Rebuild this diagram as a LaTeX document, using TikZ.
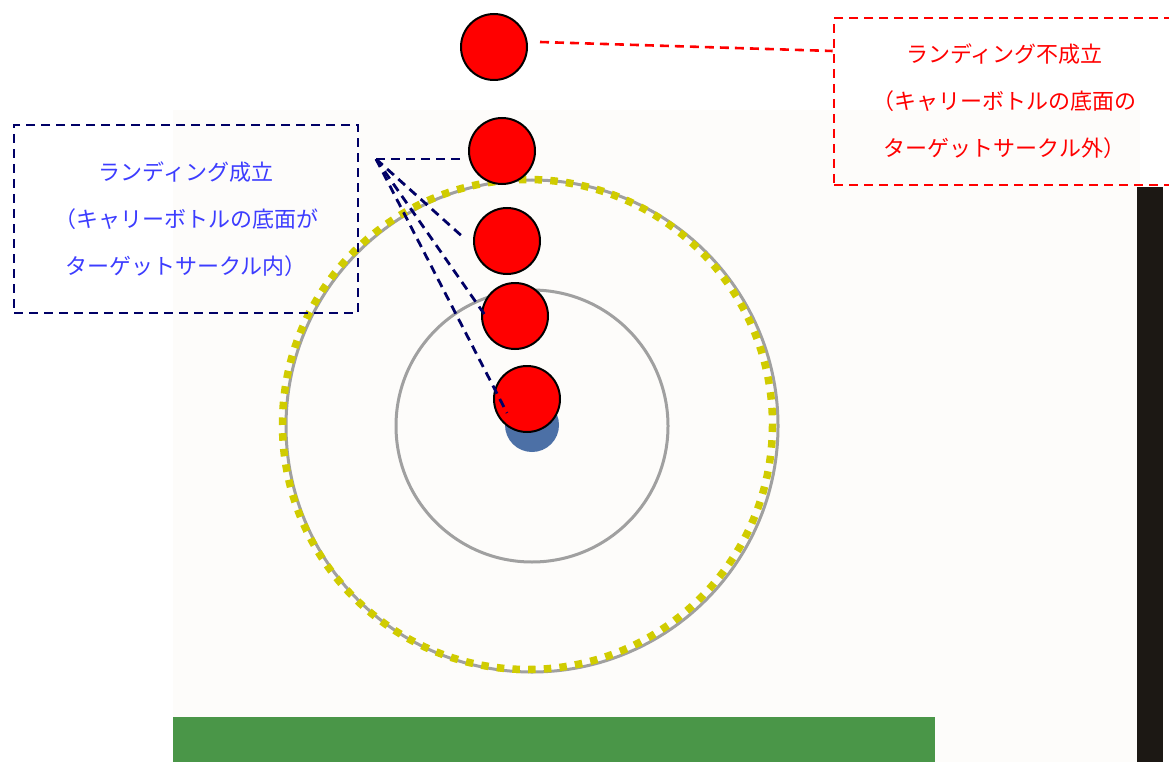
\documentclass[tikz,border=0pt]{standalone}
\definecolor{ballred}{RGB}{255, 0, 0}
\definecolor{ringgray}{RGB}{160, 160, 160}
\definecolor{ringyellow}{RGB}{208, 204, 0}
\definecolor{dotblue}{RGB}{76, 112, 166}
\definecolor{fieldgreen}{RGB}{74, 150, 72}
\definecolor{wallblack}{RGB}{28, 24, 20}
\definecolor{paper}{RGB}{253, 252, 250}
\definecolor{calloutnavy}{RGB}{0, 0, 102}
\definecolor{textblue}{RGB}{60, 60, 255}
\usepackage{tikz}
\usepackage{fontspec}
\newfontfamily\jpfont{Noto Sans CJK JP}
\usetikzlibrary{positioning}
\tikzset{
  ball/.style={circle, draw=black, line width=2pt, fill=ballred, minimum size=66pt, inner sep=0pt},
  callout/.style={line width=2.6pt, dash pattern=on 9pt off 6pt, minimum width=344pt, align=center,
    font=\jpfont\fontsize{22}{47}\selectfont, inner sep=0pt},
  navyline/.style={draw=calloutnavy, line width=2.8pt, dash pattern=on 9pt off 6pt}
}
\begin{document}
\begin{tikzpicture}[x=1pt, y=-1pt]
\useasboundingbox (0,0) rectangle (1169,762);
\clip (0,0) rectangle (1169,762);
% field
\fill[paper] (173,110) rectangle (1140,762);
\fill[fieldgreen] (173,717) rectangle (935,762);
\fill[wallblack] (1137,187) rectangle (1163,762);
% target circles
\draw[ringgray, line width=3pt] (532,426) circle (246);
\draw[ringyellow, line width=7.5pt, dash pattern=on 7.5pt off 8.2pt] (527.5,424.5) circle (245);
\draw[ringgray, line width=3pt] (532,426) circle (136);
\node[circle, fill=dotblue, minimum size=54pt, inner sep=0pt] (target) at (532,425) {};
% bottle positions
\foreach \n/\x/\y in {1/494/47, 2/502/151, 3/507/241, 4/515/316, 5/527/399} {
  \node[ball] (b\n) at (\x,\y) {};
}
% callouts
\node[callout, draw=calloutnavy, text=textblue, minimum height=188pt] (ok) at (186,219)
  {ランディング成立\\（キャリーボトルの底面が\\ターゲットサークル内）};
\node[callout, draw=ballred, text=ballred, minimum width=341pt, minimum height=167pt] (ng) at (1004.5,101.5)
  {ランディング不成立\\（キャリーボトルの底面の\\ターゲットサークル外）};
\coordinate (apex) at (376,159);
\coordinate (p1) at (460,159);
\coordinate (p2) at (464,238);
\coordinate (p3) at (487,318);
\coordinate (p4) at (507,413);
\foreach \p in {p1,p2,p3,p4} {
  \draw[navyline] (apex) -- (\p);
}
\draw[ballred, line width=2.6pt, dash pattern=on 9pt off 6pt] (b1.east) ++(12,-5) coordinate (q) -- (ng.west |- 0,51);
\end{tikzpicture}
\end{document}
